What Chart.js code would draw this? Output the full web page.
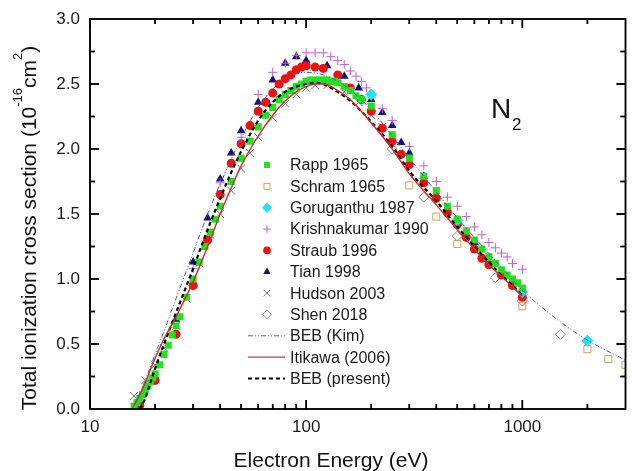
<!DOCTYPE html>
<html>
<head>
<meta charset="utf-8">
<script src="https://cdn.jsdelivr.net/npm/chart.js@4.4.1/dist/chart.umd.min.js"></script>
<style>
  html, body { margin: 0; padding: 0; background: #fff; }
</style>
</head>
<body>
<canvas id="chart" width="632" height="471"></canvas>
<script>
// energies (eV) and cross sections (1e-16 cm^2)
const rappE = [16, 16.5, 17, 17.5, 18, 18.5, 19, 19.5, 20, 21, 22, 23, 24, 25, 26, 28, 30, 32, 34, 36, 38, 40, 45, 50, 55, 60, 65, 70, 75, 80, 85, 90, 95, 100, 105, 110, 115, 120, 125, 130, 135, 140, 150, 160, 170, 180, 200, 250, 300, 350, 400, 450, 500, 550, 600, 650, 700, 750, 800, 850, 900, 950, 1000];
const rappQ = [0.02, 0.05, 0.08, 0.11, 0.15, 0.18, 0.21, 0.24, 0.27, 0.34, 0.42, 0.49, 0.57, 0.64, 0.71, 0.86, 1.00, 1.13, 1.25, 1.36, 1.46, 1.56, 1.75, 1.93, 2.06, 2.17, 2.26, 2.32, 2.38, 2.42, 2.45, 2.48, 2.50, 2.52, 2.53, 2.53, 2.53, 2.53, 2.53, 2.52, 2.52, 2.51, 2.48, 2.45, 2.41, 2.38, 2.33, 2.11, 1.93, 1.79, 1.68, 1.56, 1.46, 1.37, 1.30, 1.23, 1.17, 1.12, 1.07, 1.03, 1.00, 0.97, 0.93];

const schramE = [300, 400, 500, 1000, 2000, 2500, 3000];
const schramQ = [1.72, 1.48, 1.27, 0.79, 0.46, 0.385, 0.34];

const goruE = [200, 500, 1000, 2000];
const goruQ = [2.42, 1.45, 0.90, 0.525];

const krishE = [30, 40, 50, 60, 70, 80, 90, 100, 110, 120, 130, 140, 150, 160, 170, 180, 190, 200, 225, 250, 300, 350, 400, 450, 500, 550, 600, 650, 700, 750, 800, 850, 900, 1000];
const krishQ = [1.08, 1.74, 2.09, 2.42, 2.59, 2.66, 2.72, 2.74, 2.74, 2.74, 2.71, 2.68, 2.65, 2.60, 2.56, 2.52, 2.47, 2.40, 2.31, 2.22, 2.02, 1.87, 1.75, 1.63, 1.56, 1.48, 1.40, 1.34, 1.28, 1.24, 1.20, 1.17, 1.12, 1.075];

const straubE = [17, 20, 25, 30, 35, 40, 45, 50, 55, 60, 65, 70, 75, 80, 85, 90, 95, 100, 110, 120, 140, 160, 180, 200, 225, 250, 275, 300, 350, 400, 450, 500, 550, 600, 650, 700, 800, 900, 1000];
const straubQ = [0.03, 0.22, 0.575, 0.95, 1.30, 1.65, 1.89, 2.04, 2.18, 2.29, 2.36, 2.43, 2.50, 2.54, 2.57, 2.61, 2.63, 2.64, 2.63, 2.62, 2.57, 2.47, 2.38, 2.29, 2.16, 2.06, 1.96, 1.88, 1.74, 1.62, 1.51, 1.42, 1.32, 1.23, 1.16, 1.11, 1.03, 0.95, 0.86];

const tianE = [20, 25, 30, 35, 40, 45, 50, 60, 70, 80, 90, 100, 125, 150, 175, 200, 225, 250, 275, 300, 350, 400, 450, 500, 550, 600];
const tianQ = [0.25, 0.69, 1.13, 1.47, 1.77, 1.97, 2.14, 2.36, 2.53, 2.66, 2.71, 2.68, 2.64, 2.56, 2.47, 2.38, 2.28, 2.18, 2.05, 1.97, 1.79, 1.65, 1.54, 1.43, 1.34, 1.28];

const hudsonE = [16, 18, 20, 22, 25, 28, 32, 36, 40, 45, 50, 55, 60, 70, 80, 90, 100, 110, 125, 150, 175, 200, 225, 250];
const hudsonQ = [0.10, 0.22, 0.34, 0.47, 0.64, 0.85, 1.12, 1.34, 1.50, 1.68, 1.85, 1.97, 2.09, 2.24, 2.35, 2.42, 2.47, 2.49, 2.49, 2.44, 2.36, 2.26, 2.17, 2.08];

const shenE = [250, 350, 500, 750, 1000, 1500];
const shenQ = [2.00, 1.63, 1.33, 1.01, 0.83, 0.575];

const kimE = [15.6, 16, 17, 18, 20, 22, 25, 30, 35, 40, 50, 60, 70, 80, 90, 100, 120, 150, 200, 300, 400, 500, 600, 800, 1000, 1500, 2000, 3000];
const kimQ = [0, 0.03, 0.12, 0.22, 0.42, 0.60, 0.85, 1.20, 1.50, 1.73, 2.08, 2.32, 2.46, 2.54, 2.58, 2.59, 2.57, 2.49, 2.30, 1.93, 1.67, 1.47, 1.32, 1.09, 0.915, 0.67, 0.53, 0.375];

const itikawaE = [16, 17, 18, 19, 20, 22, 25, 30, 35, 40, 45, 50, 60, 70, 80, 90, 100, 110, 120, 140, 160, 200, 250, 300, 400, 500, 600, 700, 800, 900, 1000];
const itikawaQ = [0.03, 0.11, 0.20, 0.30, 0.39, 0.54, 0.71, 0.98, 1.25, 1.50, 1.70, 1.87, 2.10, 2.26, 2.37, 2.44, 2.48, 2.50, 2.50, 2.45, 2.38, 2.20, 2.00, 1.81, 1.57, 1.38, 1.23, 1.11, 1.02, 0.94, 0.87];

const bebE = [17, 18, 19, 20, 22, 25, 30, 35, 40, 45, 50, 60, 70, 80, 90, 100, 110, 120, 140, 160, 200, 250, 300, 400, 500, 600, 700, 800, 900, 1000];
const bebQ = [0, 0.08, 0.20, 0.31, 0.50, 0.74, 1.08, 1.38, 1.62, 1.82, 1.98, 2.22, 2.36, 2.44, 2.48, 2.50, 2.51, 2.50, 2.44, 2.37, 2.21, 2.02, 1.83, 1.60, 1.40, 1.25, 1.13, 1.03, 0.95, 0.875];

const xLabels = [10, 100, 1000];
const xMinor = [20, 30, 40, 50, 60, 70, 80, 90, 200, 300, 400, 500, 600, 700, 800, 900, 2000];
const yMajor = [0.5, 1.0, 1.5, 2.0, 2.5];
const yMinor = [0.25, 0.75, 1.25, 1.75, 2.25, 2.75];

const pts = (xs, ys) => xs.map((x, i) => ({ x, y: ys[i] }));
const FONT = '"Liberation Sans", Arial, sans-serif';

function marks(label, xs, ys, style, color, radius, hollow) {
  return {
    label, data: pts(xs, ys), showLine: false, order: 2,
    pointStyle: style, pointRadius: radius,
    backgroundColor: hollow ? 'rgba(0,0,0,0)' : color,
    borderColor: color, borderWidth: hollow || style === 'cross' || style === 'crossRot' ? 1 : 0
  };
}
function curve(label, xs, ys, color, width, dash, legendColor) {
  return {
    label, data: pts(xs, ys), showLine: true, order: 1,
    borderColor: color, borderWidth: width, borderDash: dash,
    pointRadius: 0, cubicInterpolationMode: 'monotone', fill: false,
    legendColor: legendColor || color
  };
}

const datasets = [
  marks('Rapp 1965', rappE, rappQ, 'rect', '#22e022', 5, false),
  marks('Schram 1965', schramE, schramQ, 'rect', '#c9a064', 5, true),
  marks('Goruganthu 1987', goruE, goruQ, 'rectRot', '#1fe4f2', 6, false),
  marks('Krishnakumar 1990', krishE, krishQ, 'cross', '#c060c8', 4.5, false),
  marks('Straub 1996', straubE, straubQ, 'circle', '#f01010', 4.5, false),
  marks('Tian 1998', tianE, tianQ, 'triangle', '#12127c', 5, false),
  marks('Hudson 2003', hudsonE, hudsonQ, 'crossRot', '#6e6e8a', 5.5, false),
  marks('Shen 2018', shenE, shenQ, 'rectRot', '#a57c72', 5, true),
  curve('BEB (Kim)', kimE, kimQ, '#5a5a88', 1, [5, 2, 1, 2, 1, 2]),
  curve('Itikawa (2006)', itikawaE, itikawaQ, '#d42a2a', 1.4, [], '#a84848'),
  curve('BEB (present)', bebE, bebQ, '#000000', 2.2, [4, 3])
];

// inward ticks, drawn as separate short strokes
function drawTicks(chart) {
  const ctx = chart.ctx;
  const a = chart.chartArea;
  const sx = chart.scales.x, sy = chart.scales.y;
  ctx.save();
  ctx.setLineDash([]);
  ctx.strokeStyle = '#000000';
  ctx.lineWidth = 1.5;
  const seg = (x1, y1, x2, y2) => {
    ctx.beginPath();
    ctx.moveTo(x1, y1);
    ctx.lineTo(x2, y2);
    ctx.stroke();
  };
  xLabels.concat(xMinor).forEach(v => {
    const len = xLabels.includes(v) ? 9 : 5;
    const px = sx.getPixelForValue(v);
    seg(px, a.bottom, px, a.bottom - len);
    seg(px, a.top, px, a.top + len);
  });
  yMajor.concat(yMinor).forEach(v => {
    const len = yMajor.includes(v) ? 9 : 5;
    const py = sy.getPixelForValue(v);
    seg(a.left, py, a.left + len, py);
    seg(a.right, py, a.right - len, py);
  });
  ctx.strokeRect(a.left, a.top, a.right - a.left, a.bottom - a.top);
  ctx.restore();
}

const decorations = {
  id: 'decorations',
  afterDatasetsDraw(chart) {
    drawTicks(chart);
  },
  afterDraw(chart) {
    const ctx = chart.ctx;
    ctx.save();
    ctx.setLineDash([]);

    // legend
    const lx = 267, ly0 = 165, step = 21.35;
    ctx.font = '16px ' + FONT;
    ctx.textBaseline = 'middle';
    ctx.textAlign = 'left';
    chart.data.datasets.forEach((ds, i) => {
      const yy = ly0 + i * step;
      if (ds.showLine) {
        ctx.strokeStyle = ds.legendColor;
        ctx.lineWidth = ds.borderWidth;
        ctx.setLineDash(ds.borderDash);
        ctx.beginPath();
        ctx.moveTo(248, yy); ctx.lineTo(285, yy);
        ctx.stroke();
        ctx.setLineDash([]);
      } else {
        ctx.fillStyle = ds.backgroundColor;
        ctx.strokeStyle = ds.borderColor;
        ctx.lineWidth = ds.borderWidth;
        Chart.helpers.drawPoint(ctx, {
          pointStyle: ds.pointStyle, rotation: 0,
          radius: ds.pointRadius * 0.85, borderWidth: ds.borderWidth
        }, lx, yy);
      }
      ctx.fillStyle = '#1a1a1a';
      ctx.fillText(ds.label, 290, yy + 1);
    });

    // molecule label
    ctx.fillStyle = '#111';
    ctx.textBaseline = 'alphabetic';
    ctx.font = '28px ' + FONT;
    ctx.fillText('N', 491, 118);
    ctx.font = '17px ' + FONT;
    ctx.fillText('2', 512, 130);

    // x title
    ctx.font = '21px ' + FONT;
    ctx.textAlign = 'center';
    ctx.fillText('Electron Energy (eV)', 331, 467);

    // y title with superscripts
    const parts = [
      ['Total ionization cross section (10', 21, 0],
      ['-16', 13, -14],
      ['cm', 21, 0],
      ['2', 13, -14],
      [')', 21, 0]
    ];
    let total = 0;
    parts.forEach(p => { ctx.font = p[1] + 'px ' + FONT; total += ctx.measureText(p[0]).width; });
    ctx.translate(36, 228);
    ctx.rotate(-Math.PI / 2);
    ctx.textAlign = 'left';
    let cx = -total / 2;
    parts.forEach(p => {
      ctx.font = p[1] + 'px ' + FONT;
      ctx.fillText(p[0], cx, p[2]);
      cx += ctx.measureText(p[0]).width;
    });
    ctx.restore();

    drawTicks(chart);
  }
};

new Chart(document.getElementById('chart'), {
  type: 'scatter',
  data: { datasets },
  options: {
    responsive: false,
    animation: false,
    layout: { padding: { top: 19, right: 1, left: 0, bottom: 0 } },
    plugins: { legend: { display: false }, tooltip: { enabled: false } },
    scales: {
      x: {
        type: 'logarithmic', min: 10, max: 3000,
        afterFit: s => { s.height = 62; s.paddingLeft = 0; s.paddingRight = 0; },
        grid: { display: false, drawTicks: false }, border: { display: false },
        ticks: {
          autoSkip: false, maxRotation: 0, padding: 8, color: '#1a1a1a',
          font: { size: 17, family: FONT },
          callback: v => xLabels.includes(v) ? String(v) : ''
        }
      },
      y: {
        min: 0, max: 3,
        afterFit: s => { s.width = 90; s.paddingTop = 0; s.paddingBottom = 0; },
        grid: { display: false, drawTicks: false }, border: { display: false },
        ticks: {
          stepSize: 0.5, padding: 10, color: '#1a1a1a',
          font: { size: 17, family: FONT },
          callback: v => v.toFixed(1)
        }
      }
    }
  },
  plugins: [decorations]
});
</script>
</body>
</html>
